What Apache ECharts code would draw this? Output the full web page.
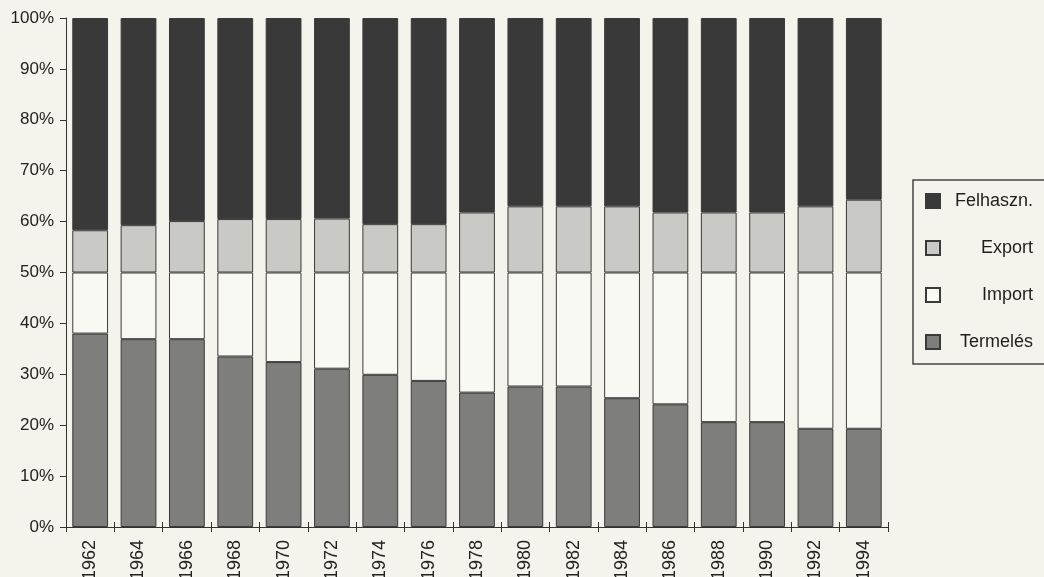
<!DOCTYPE html>
<html>
<head>
<meta charset="utf-8">
<script src="https://cdn.jsdelivr.net/npm/echarts@6/dist/echarts.min.js"></script>
<style>
html,body{margin:0;padding:0;background:#f4f4ec;}
#c{width:1044px;height:577px;}
</style>
</head>
<body>
<div id="c"></div>
<script>
const years = ['1962','1964','1966','1968','1970','1972','1974','1976','1978','1980','1982','1984','1986','1988','1990','1992','1994'];
const termeles = [38.0, 36.9, 36.9, 33.5, 32.4, 31.1, 29.9, 28.7, 26.4, 27.6, 27.6, 25.3, 24.1, 20.6, 20.6, 19.3, 19.3];
const importV  = [12.0, 13.1, 13.1, 16.5, 17.6, 18.9, 20.1, 21.3, 23.6, 22.4, 22.4, 24.7, 25.9, 29.4, 29.4, 30.7, 30.7];
const exportV  = [8.3, 9.3, 10.1, 10.5, 10.5, 10.6, 9.5, 9.5, 11.8, 13.0, 13.0, 13.0, 11.8, 11.8, 11.8, 13.0, 14.3];
const felhaszn = [41.7, 40.7, 39.9, 39.5, 39.5, 39.4, 40.5, 40.5, 38.2, 37.0, 37.0, 37.0, 38.2, 38.2, 38.2, 37.0, 35.7];
const yTicks = [0, 10, 20, 30, 40, 50, 60, 70, 80, 90, 100];

const chart = echarts.init(document.getElementById('c'));
const border = {borderColor: '#3a3a3a', borderWidth: 1};
function bar(name, data, color) {
  return {
    name: name, type: 'bar', stack: 'all', data: data,
    xAxisIndex: 0,
    barCategoryGap: '26%',
    itemStyle: Object.assign({color: color}, border),
    emphasis: {disabled: true}
  };
}
chart.setOption({
  backgroundColor: '#f4f4ec',
  animation: false,
  textStyle: {fontFamily: 'Liberation Sans, Arial, sans-serif'},
  grid: {left: 66, right: 156, top: 18, bottom: 50, containLabel: false, outerBoundsMode: 'none'},
  legend: {
    orient: 'vertical',
    left: 913, top: 180,
    data: ['Felhaszn.', 'Export', 'Import', 'Termelés'],
    itemWidth: 14, itemHeight: 14, itemGap: 29, itemTextGap: 5,
    padding: [12, 18, 13, 12],
    borderColor: '#444', borderWidth: 1.5,
    icon: 'rect',
    formatter: '{a|{name}}',
    textStyle: {
      color: '#1e1e1e', fontSize: 18,
      rich: {a: {width: 88, align: 'right', fontSize: 18, lineHeight: 20, color: '#1e1e1e'}}
    }
  },
  xAxis: [{
    type: 'category',
    data: years,
    boundaryGap: true,
    axisLine: {lineStyle: {color: '#333', width: 1}},
    axisTick: {show: true, length: 5, lineStyle: {color: '#333'}},
    axisLabel: {rotate: 90, margin: 13, fontSize: 18, color: '#222', interval: 0}
  }, {
    type: 'category',
    data: years,
    position: 'bottom',
    offset: 0,
    boundaryGap: true,
    axisLine: {show: false},
    axisTick: {show: true, inside: true, length: 5, lineStyle: {color: '#333'}},
    axisLabel: {show: false}
  }],
  yAxis: {
    type: 'value',
    min: yTicks[0], max: yTicks[yTicks.length - 1], interval: 10,
    axisLine: {show: true, lineStyle: {color: '#333', width: 1}},
    axisTick: {show: true, length: 6, lineStyle: {color: '#333'}},
    splitLine: {show: false},
    axisLabel: {formatter: '{value}%', fontSize: 17, color: '#222', margin: 12}
  },
  series: [
    bar('Termelés', termeles, '#7e7e7c'),
    bar('Import', importV, '#f8f9f3'),
    bar('Export', exportV, '#c9cac5'),
    bar('Felhaszn.', felhaszn, '#393939')
  ]
});
</script>
</body>
</html>
